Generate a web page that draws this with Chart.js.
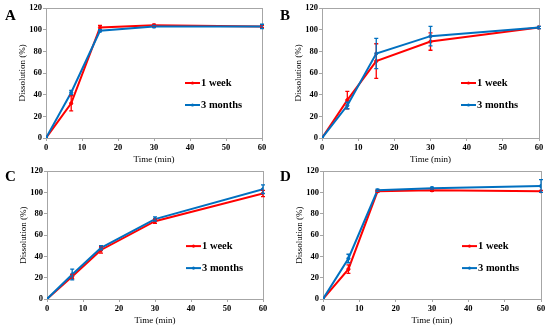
<!DOCTYPE html>
<html>
<head>
<meta charset="utf-8">
<script src="https://cdn.jsdelivr.net/npm/chart.js@4.4.1/dist/chart.umd.min.js"></script>
<style>
html,body{margin:0;padding:0;background:#fff;}
#wrap{position:relative;width:550px;height:331px;overflow:hidden;}
.pan{position:absolute;}
.lbl{position:absolute;font-family:"Liberation Serif","Times New Roman",serif;font-weight:bold;font-size:15px;color:#000;line-height:1;}
</style>
</head>
<body>
<div id="wrap">
  <div class="pan" style="left:0;top:0;width:275px;height:165px"><canvas id="cA"></canvas></div>
  <div class="pan" style="left:275px;top:0;width:275px;height:165px"><canvas id="cB"></canvas></div>
  <div class="pan" style="left:0;top:165px;width:275px;height:166px"><canvas id="cC"></canvas></div>
  <div class="pan" style="left:275px;top:165px;width:275px;height:166px"><canvas id="cD"></canvas></div>
  <div class="lbl" style="left:5px;top:8px">A</div>
  <div class="lbl" style="left:280px;top:8px">B</div>
  <div class="lbl" style="left:5px;top:169px">C</div>
  <div class="lbl" style="left:280px;top:169px">D</div>
</div>
<script>
// Data
const times = [0, 7, 15, 30, 60];
const seriesNames = ['1 week', '3 months'];
const xTicks = [0, 10, 20, 30, 40, 50, 60];
const yTicks = [0, 20, 40, 60, 80, 100, 120];

const A_week = [0, 32, 102, 104, 103];
const A_weekErr = [0, 7, 2, 1, 1];
const A_months = [0, 42, 99, 103, 103];
const A_monthsErr = [0, 2, 1, 1, 2];

const B_week = [0, 35, 71, 89, 102];
const B_weekErr = [0, 8, 16, 8, 1];
const B_months = [0, 30, 78, 94, 102];
const B_monthsErr = [0, 3, 14, 9, 1];

const C_week = [0, 21, 46, 73, 99];
const C_weekErr = [0, 2, 3, 2, 3];
const C_months = [0, 23, 48, 75, 103];
const C_monthsErr = [0, 5, 2, 2, 4];

const D_week = [0, 28, 101, 102, 101];
const D_weekErr = [0, 4, 1, 1, 1];
const D_months = [0, 38, 102, 104, 106];
const D_monthsErr = [0, 4, 1, 1, 6];

const RED = 'rgb(255,0,0)';
const BLUE = 'rgb(0,112,192)';
const SERIF = '"Liberation Serif","Times New Roman",serif';

const errPlugin = {
  id: 'errbars',
  afterDatasetsDraw(chart) {
    const ctx = chart.ctx;
    const xs = chart.scales.x, ys = chart.scales.y;
    const metas = chart.getSortedVisibleDatasetMetas().slice().reverse();
    metas.forEach(meta => {
      const ds = chart.data.datasets[meta.index];
      if (!ds.err) return;
      ctx.save();
      ctx.strokeStyle = ds.borderColor;
      ctx.lineWidth = 1.3;
      ds.data.forEach((p, i) => {
        const e = ds.err[i];
        if (!e) return;
        const x = xs.getPixelForValue(p.x);
        const y1 = ys.getPixelForValue(p.y - e);
        const y2 = ys.getPixelForValue(p.y + e);
        ctx.beginPath();
        ctx.moveTo(x, y1); ctx.lineTo(x, y2);
        ctx.moveTo(x - 2, y1); ctx.lineTo(x + 2, y1);
        ctx.moveTo(x - 2, y2); ctx.lineTo(x + 2, y2);
        ctx.stroke();
      });
      ctx.restore();
    });
  }
};

const framePlugin = {
  id: 'frame',
  beforeDatasetsDraw(chart) {
    const a = chart.chartArea, ctx = chart.ctx;
    ctx.save();
    ctx.strokeStyle = '#a6a6a6';
    ctx.lineWidth = 1;
    ctx.strokeRect(Math.round(a.left) + 0.5, Math.round(a.top) + 0.5, Math.round(a.right - a.left), Math.round(a.bottom - a.top));
    ctx.restore();
  }
};

const legendPlugin = {
  id: 'mylegend',
  afterDraw(chart) {
    const a = chart.chartArea, ctx = chart.ctx;
    const items = [[seriesNames[0], RED, 75], [seriesNames[1], BLUE, 97]];
    ctx.save();
    items.forEach(([name, col, dy]) => {
      const x = a.left + 139, y = a.top + dy;
      ctx.strokeStyle = col; ctx.lineWidth = 2;
      ctx.beginPath(); ctx.moveTo(x, y); ctx.lineTo(x + 15, y); ctx.stroke();
      ctx.fillStyle = col;
      ctx.beginPath(); ctx.arc(x + 7.5, y, 1.6, 0, Math.PI * 2); ctx.fill();
      ctx.fillStyle = '#000';
      ctx.font = 'bold 10.5px ' + SERIF;
      ctx.textBaseline = 'middle';
      ctx.fillText(name, x + 16, y + 0.5);
    });
    ctx.restore();
  }
};

function makeChart(id, week, weekErr, months, monthsErr, geo) {
  const mk = (vals) => times.map((t, i) => ({x: t, y: vals[i]}));
  return new Chart(document.getElementById(id), {
    type: 'line',
    data: {
      datasets: [
        {label: seriesNames[0], data: mk(week), err: weekErr, borderColor: RED, backgroundColor: RED,
         borderWidth: 2, pointRadius: 1.6, pointBorderWidth: 1, pointHoverRadius: 1.6, tension: 0, order: 1},
        {label: seriesNames[1], data: mk(months), err: monthsErr, borderColor: BLUE, backgroundColor: BLUE,
         borderWidth: 2, pointRadius: 1.6, pointBorderWidth: 1, pointHoverRadius: 1.6, tension: 0, order: 0}
      ]
    },
    options: {
      responsive: true,
      maintainAspectRatio: false,
      animation: false,
      events: [],
      layout: {padding: {left: geo.pl, right: geo.pr, top: geo.pt, bottom: geo.pb}},
      plugins: {legend: {display: false}, tooltip: {enabled: false}},
      scales: {
        x: {
          type: 'linear', min: 0, max: 60,
          afterBuildTicks: s => { s.ticks = xTicks.map(v => ({value: v})); },
          afterFit: s => { s.height = geo.xh; },
          grid: {drawOnChartArea: false, tickLength: 3, color: '#a6a6a6'},
          border: {color: '#a6a6a6'},
          ticks: {color: '#000', padding: 2, maxRotation: 0, font: {family: SERIF, size: 8.5, weight: 'bold'}},
          title: {display: true, text: 'Time (min)', color: '#000', padding: {top: 0, bottom: 0}, font: {family: SERIF, size: 9}}
        },
        y: {
          type: 'linear', min: 0, max: 120,
          afterBuildTicks: s => { s.ticks = yTicks.map(v => ({value: v})); },
          afterFit: s => { s.width = geo.yw; },
          grid: {drawOnChartArea: false, tickLength: 3, color: '#a6a6a6'},
          border: {color: '#a6a6a6'},
          ticks: {color: '#000', padding: 1, font: {family: SERIF, size: 8.5, weight: 'bold'}},
          title: {display: true, text: 'Dissolution (%)', color: '#000', padding: {top: 4, bottom: 0}, font: {family: SERIF, size: 9}}
        }
      }
    },
    plugins: [framePlugin, errPlugin, legendPlugin]
  });
}

makeChart('cA', A_week, A_weekErr, A_months, A_monthsErr, {pl: 13, yw: 33, pr: 13, pt: 8, pb: 0, xh: 27});
makeChart('cB', B_week, B_weekErr, B_months, B_monthsErr, {pl: 14, yw: 33, pr: 11, pt: 8, pb: 0, xh: 27});
makeChart('cC', C_week, C_weekErr, C_months, C_monthsErr, {pl: 14, yw: 33, pr: 12, pt: 5, pb: 5, xh: 27});
makeChart('cD', D_week, D_weekErr, D_months, D_monthsErr, {pl: 15, yw: 33, pr: 9, pt: 5, pb: 5, xh: 27});
</script>
</body>
</html>
